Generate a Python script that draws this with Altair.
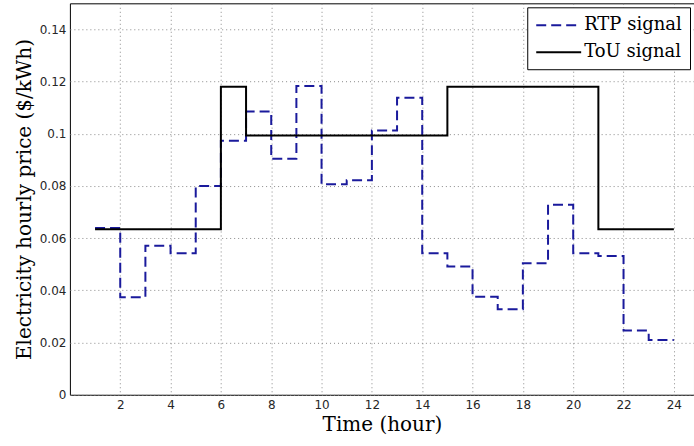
import altair as alt
import pandas as pd

hours = list(range(1, 25))
rtp = [0.0639, 0.0374, 0.0571, 0.0542, 0.0800, 0.0973, 0.1085, 0.0904,
       0.1183, 0.0807, 0.0822, 0.1013, 0.1138, 0.0542, 0.0491, 0.0376,
       0.0328, 0.0504, 0.0728, 0.0542, 0.0532, 0.0246, 0.0210, 0.0210]
tou = [0.0634] * 5 + [0.118] + [0.0993] * 8 + [0.118] * 6 + [0.0634] * 4
series_names = ["RTP signal", "ToU signal"]
x_ticks = list(range(2, 25, 2))
y_ticks = [0, 0.02, 0.04, 0.06, 0.08, 0.10, 0.12, 0.14]

rows = []
for h, v in zip(hours, rtp):
    rows.append({"series": series_names[0], "hour": h, "price": v, "order": 0})
for h, v in zip(hours, tou):
    rows.append({"series": series_names[1], "hour": h, "price": v, "order": 1})
df = pd.DataFrame(rows)

leg = alt.Legend(title=None, orient="top-right", offset=4,
                 symbolType="M-1,0H4", symbolSize=324,
                 symbolStrokeWidth=2, labelFont="DejaVu Serif",
                 labelFontSize=18, labelColor="black", labelOffset=29,
                 padding=8, rowPadding=8, strokeColor="black",
                 fillColor="white", cornerRadius=0)

chart = alt.Chart(df).mark_line(interpolate="step-after", strokeWidth=2).encode(
    x=alt.X("hour:Q",
            scale=alt.Scale(domain=[0, 24.8], nice=False, zero=False),
            axis=alt.Axis(values=x_ticks, title="Time (hour)", titleFont="DejaVu Serif",
                          titleFontSize=20, titleFontWeight="normal", titleColor="black",
                          labelFont="DejaVu Sans", labelFontSize=12, labelColor="#262626",
                          labelPadding=5, titlePadding=4, ticks=False, domain=False,
                          grid=True, gridColor="#8a8a8a", gridDash=[1, 3], gridWidth=1)),
    y=alt.Y("price:Q",
            scale=alt.Scale(domain=[0, 0.15], nice=False),
            axis=alt.Axis(values=y_ticks, format=".2~f",
                          title="Electricity hourly price ($/kWh)", titleFont="DejaVu Serif",
                          titleFontSize=20, titleFontWeight="normal", titleColor="black",
                          labelFont="DejaVu Sans", labelFontSize=12, labelColor="#262626",
                          labelPadding=4, titlePadding=5, ticks=False, domain=False,
                          grid=True, gridColor="#8a8a8a", gridDash=[1, 3], gridWidth=1)),
    color=alt.Color("series:N",
                    scale=alt.Scale(domain=series_names, range=["#1a1a9c", "#000000"]),
                    legend=leg),
    strokeDash=alt.StrokeDash("series:N",
                              scale=alt.Scale(domain=series_names, range=[[10, 5], [1, 0]]),
                              legend=leg),
    order="order:Q",
).properties(
    width=625, height=392,
    autosize=alt.AutoSizeParams(type="none"),
    padding={"left": 70, "top": 3, "right": 0, "bottom": 51},
    background="white",
).configure_view(stroke="black", strokeWidth=1).configure_legend(
    labelFont="DejaVu Serif", labelFontSize=18, labelColor="black"
)

chart.save("out.html", embed_options={"renderer": "svg", "actions": False})
